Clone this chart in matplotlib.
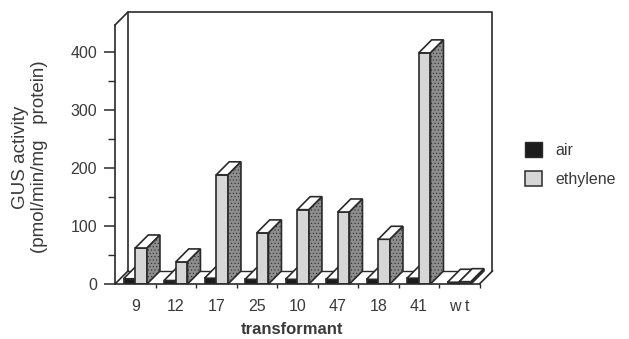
import numpy as np
import matplotlib
matplotlib.use("Agg")
import matplotlib.pyplot as plt
from matplotlib.patches import Patch, Polygon

plt.rcParams['font.family'] = ['Liberation Sans', 'DejaVu Sans']
plt.rcParams['hatch.linewidth'] = 0.4

# Values
transformants = ['9', '12', '17', '25', '10', '47', '18', '41', 'w t']
air = [9, 6, 10, 8, 8, 8, 8, 10, 3]
ethylene = [62, 38, 188, 88, 128, 124, 77, 398, 4]

# Pseudo 3D depth, in data units
depth_x = 0.32
depth_y = 22.4
bar_w = 0.29
y_top = 446
edge = '#2a2a2a'
text_col = '#3a3a3a'

fig = plt.figure(figsize=(6.29, 3.39), dpi=100)
ax = fig.add_axes([115 / 629, 55 / 339, 364.5 / 629, 259 / 339])
ax.set_xlim(0, 9)
ax.set_ylim(0, y_top)


def draw_bar(x, h, front, side):
    ax.bar(x, h, bar_w, align='edge', color=front, edgecolor=edge, linewidth=1.2, zorder=3)
    top = [(x, h), (x + bar_w, h), (x + bar_w + depth_x, h + depth_y), (x + depth_x, h + depth_y)]
    ax.add_patch(Polygon(top, facecolor='white', edgecolor=edge, linewidth=1.2, zorder=3, clip_on=False))
    right = [(x + bar_w, 0), (x + bar_w + depth_x, depth_y), (x + bar_w + depth_x, h + depth_y), (x + bar_w, h)]
    ax.add_patch(Polygon(right, facecolor=side, edgecolor=edge, linewidth=1.2, zorder=3, hatch='.....', clip_on=False))


# back wall and floor edges
wall_x = [depth_x, depth_x, 9 + depth_x, 9 + depth_x]
wall_y = [depth_y, y_top + depth_y, y_top + depth_y, depth_y]
ax.plot(wall_x, wall_y, color=edge, lw=1.2, clip_on=False, zorder=1)
ax.plot([depth_x, 9 + depth_x], [depth_y, depth_y], color=edge, lw=1.0, zorder=1)
ax.plot([0, depth_x], [y_top, y_top + depth_y], color=edge, lw=1.2, clip_on=False, zorder=1)
ax.plot([0, depth_x], [0, depth_y], color=edge, lw=1.2, zorder=1)
ax.plot([9, 9 + depth_x], [0, depth_y], color=edge, lw=1.2, clip_on=False, zorder=1)

for i in range(len(transformants)):
    draw_bar(i + 0.21, air[i], '#1c1c1c', '#1c1c1c')
    draw_bar(i + 0.50, ethylene[i], '#d6d6d6', '#8e8e8e')

for s in ['top', 'right']:
    ax.spines[s].set_visible(False)
for s in ['left', 'bottom']:
    ax.spines[s].set_color(edge)
    ax.spines[s].set_linewidth(1.2)
    ax.spines[s].set_zorder(4)

ax.set_yticks([0, 100, 200, 300, 400])
ax.set_yticks([50, 150, 250, 350], minor=True)
ax.tick_params(axis='y', which='major', length=8, width=1.1, color=edge, labelsize=11.5, labelcolor=text_col, pad=5)
ax.tick_params(axis='y', which='minor', length=5, width=1.0, color=edge)
ax.set_xticks(np.arange(1, 10))
ax.set_xticks(np.arange(len(transformants)) + 0.5, minor=True)
ax.set_xticklabels(transformants, minor=True)
ax.set_xticklabels([])
ax.tick_params(axis='x', which='major', length=3, width=1.0, color=edge)
ax.tick_params(axis='x', which='minor', length=0, labelsize=11.5, labelcolor=text_col, pad=11)

fig.text(292 / 629, 1 - 329 / 339, 'transformant', fontsize=12, fontweight='bold', color=text_col,
         ha='center', va='center')
fig.text(30 / 629, 1 - 157 / 339, 'GUS activity\n(pmol/min/mg   protein)', fontsize=13.5, color=text_col, rotation=90,
         ha='center', va='center', linespacing=1.15)

handles = [Patch(facecolor='#1c1c1c', edgecolor=edge, label='air'),
           Patch(facecolor='#d6d6d6', edgecolor=edge, linewidth=1.1, label='ethylene')]
fig.legend(handles=handles, loc='center left', bbox_to_anchor=(511 / 629, 1 - 164.5 / 339), frameon=False,
           fontsize=11.5, labelcolor=text_col, handlelength=1.05, handleheight=1.05, handletextpad=0.85, labelspacing=0.8)

fig.savefig('out.png', dpi=100)
